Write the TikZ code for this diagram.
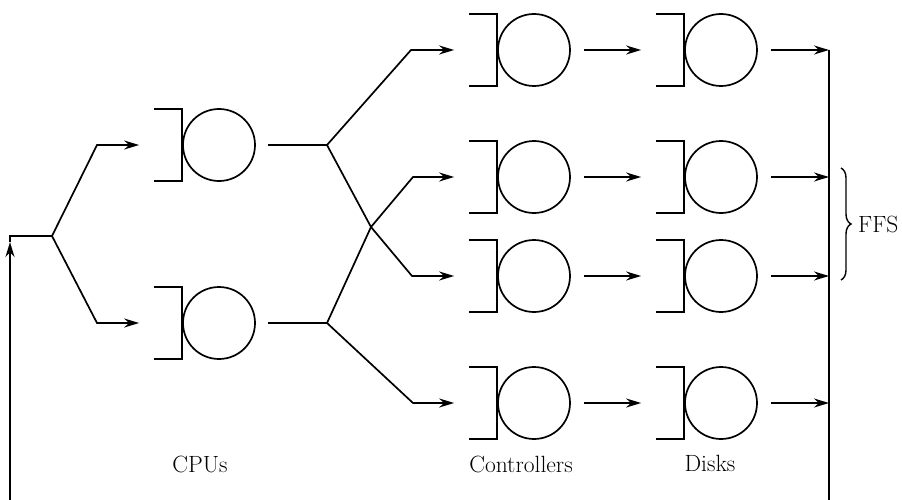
\documentclass[tikz,border=0pt]{standalone}
\usepackage{fontspec}
\usetikzlibrary{arrows.meta,decorations.pathreplacing}
\newcommand\qstation[2]{%
  \node[srv] (#1) at (#2) {};
  \draw ([shift={(-28,-36)}]#1.west) -- ([shift={(0,-36)}]#1.west) -- ([shift={(0,36)}]#1.west) -- ([shift={(-28,36)}]#1.west);
}
\begin{document}
\begin{tikzpicture}[x=1pt,y=-1pt,line width=1.7pt,
  arr/.style={-{Stealth[length=15pt,width=9pt]}},
  srv/.style={circle,draw,minimum size=72pt,inner sep=0pt},
  lbl/.style={font=\fontsize{23.5}{26}\selectfont}]
\useasboundingbox[fill=white] (0,0) rectangle (902,500);
% stations
\qstation{cpuA}{219,145}
\qstation{cpuB}{219,323}
\qstation{ctlA}{534,50}
\qstation{ctlB}{534,177}
\qstation{ctlC}{534,276}
\qstation{ctlD}{534,403}
\qstation{dskA}{721,50}
\qstation{dskB}{721,177}
\qstation{dskC}{721,276}
\qstation{dskD}{721,403}
% coordinates
\coordinate (src) at (10,500);
\coordinate (srctip) at (10,242);
\coordinate (corner) at (10,236);
\coordinate (fork) at (52,236);
\coordinate (upA) at (97,145);
\coordinate (upB) at (97,323);
\coordinate (jA) at (327,145);
\coordinate (jB) at (327,323);
\coordinate (xx) at (371,227);
\coordinate (bA) at (411,50);
\coordinate (bB) at (413,177);
\coordinate (bC) at (412,276);
\coordinate (bD) at (413,403);
\coordinate (busTop) at (829,50);
\coordinate (busBot) at (829,500);
% connectors
\draw[arr] (src) -- (srctip);
\draw (srctip) -- (corner) -- (fork);
\draw[arr] (fork) -- (upA) -- ([xshift=-43pt]cpuA.west);
\draw[arr] (fork) -- (upB) -- ([xshift=-43pt]cpuB.west);
\draw ([xshift=12pt]cpuA.east) -- (jA);
\draw ([xshift=12pt]cpuB.east) -- (jB);
\draw[arr] (jA) -- (bA) -- ([xshift=-43pt]ctlA.west);
\draw[arr] (jA) -- (xx) -- (bC) -- ([xshift=-43pt]ctlC.west);
\draw[arr] (jB) -- (xx) -- (bB) -- ([xshift=-43pt]ctlB.west);
\draw[arr] (jB) -- (bD) -- ([xshift=-43pt]ctlD.west);
\foreach \i in {A,B,C,D}{
  \draw[arr] ([xshift=13pt]ctl\i.east) -- ([xshift=-43pt]dsk\i.west);
  \draw[arr] ([xshift=13pt]dsk\i.east) -- (dsk\i.east -| busTop);
}
\draw (busTop) -- (busBot);
% brace and labels
\draw[line width=1.4pt,decorate,decoration={brace,amplitude=10pt}] (841,168) -- (841,280);
\node[lbl,anchor=west] (ffs) at (854,224) {FFS};
\node[lbl,anchor=base] (lcpu) at (200,472) {CPUs};
\node[lbl,anchor=base] (lctl) at (521,472) {Controllers};
\node[lbl,anchor=base] (ldsk) at (710,471) {Disks};
\end{tikzpicture}
\end{document}
